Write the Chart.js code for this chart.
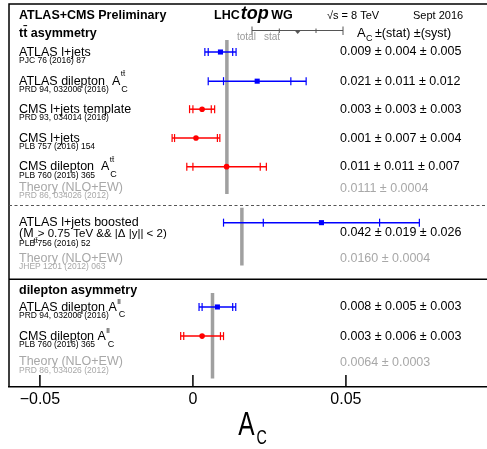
<!DOCTYPE html>
<html><head><meta charset="utf-8">
<script src="https://cdn.jsdelivr.net/npm/chart.js@4.4.1/dist/chart.umd.min.js"></script>
<style>html,body{margin:0;padding:0;background:#fff;} #wrap{position:relative;width:487px;height:449px;}</style>
</head><body><div id="wrap"><canvas id="c"></canvas></div>
<script>
// ---------------- data ----------------
const labelNames = ['ATLAS l+jets','ATLAS dilepton  A','CMS l+jets template','CMS l+jets','CMS dilepton  A','ATLAS l+jets boosted','ATLAS dilepton A','CMS dilepton A'];
const labelSup = ['', 'tt\u0304', '', '', 'tt\u0304', '', 'll', 'll'];
const experiment = ['ATLAS','ATLAS','CMS','CMS','CMS','ATLAS','ATLAS','CMS'];
const references = ['PJC 76 (2016) 87','PRD 94, 032006 (2016)','PRD 93, 034014 (2016)','PLB 757 (2016) 154','PLB 760 (2016) 365','PLB 756 (2016) 52','PRD 94, 032006 (2016)','PLB 760 (2016) 365'];
const centralValues = [0.009,0.021,0.003,0.001,0.011,0.042,0.008,0.003];
const statErrors    = [0.004,0.011,0.003,0.007,0.011,0.019,0.005,0.006];
const systErrors    = [0.005,0.012,0.003,0.004,0.007,0.026,0.003,0.003];
const totalErrors   = [0.0051,0.016,0.0041,0.0078,0.013,0.032,0.006,0.007];
const theoryValues  = [0.0111,0.0160,0.0064];
const theoryErrors  = [0.0004,0.0004,0.0003];
const theoryRefs    = ['PRD 86, 034026 (2012)','JHEP 1201 (2012) 063','PRD 86, 034026 (2012)'];
const xTicks = [-0.05,0,0.05];

// ---------------- layout (row units) ----------------
const rowPos = [1.68,2.70,3.68,4.69,5.69,7.65,10.60,11.62];
const theorySpan = [[1.26,6.65],[7.13,9.15],[10.11,13.1]];
const theoryRowPos = [6.44,8.92,12.55];
const dashedSep = 7.04, solidSep = 9.63;

const FAM = "'Liberation Sans', Arial, Helvetica, sans-serif";
const COL = {ATLAS:'rgb(0,0,255)', CMS:'rgb(255,0,0)'};
const GREYTXT = '#a8a8a8';

function txt(ctx, s, x, y, size, color, o={}) {
  ctx.save();
  ctx.font = `${o.style||'normal'} ${o.weight||'normal'} ${size}px ${FAM}`;
  ctx.fillStyle = color; ctx.textAlign = o.align||'left'; ctx.textBaseline = o.baseline||'alphabetic';
  ctx.translate(x,y); ctx.scale(o.sx||1,o.sy||1);
  ctx.fillText(s,0,0);
  const w = ctx.measureText(s).width*(o.sx||1);
  ctx.restore();
  return x + w;
}
function fmt(v,d){return v.toFixed(d);}

const datasets = [];
theoryValues.forEach((v,k)=>datasets.push({
  type:'line', label:'theory'+k,
  data:[{x:v,y:theorySpan[k][0]},{x:v,y:theorySpan[k][1]}],
  showLine:true, borderColor:'#a0a0a0', borderWidth:3.5, pointRadius:0,
  borderCapStyle:'butt', order:3
}));
['ATLAS','CMS'].forEach(e=>{
  const idx = experiment.map((x,i)=>x===e?i:-1).filter(i=>i>=0);
  datasets.push({
    label:e, isMeas:true,
    data: idx.map(i=>({x:centralValues[i], y:rowPos[i], idx:i})),
    pointStyle: e==='ATLAS'?'rect':'circle',
    pointRadius: e==='ATLAS'?3.6:2.8,
    backgroundColor: COL[e], borderColor: COL[e], borderWidth:0, order:1
  });
});

const decor = {
  id:'decor',
  beforeDatasetsDraw(chart){
    const {ctx, chartArea:a} = chart; const ys = chart.scales.y; const W = chart.width;
    ctx.save();
    ctx.strokeStyle='#000'; ctx.lineWidth=1.5;
    ctx.beginPath(); ctx.moveTo(a.left, a.bottom); ctx.lineTo(a.left, a.top); ctx.lineTo(W, a.top); ctx.stroke();
    let y = Math.round(ys.getPixelForValue(dashedSep))+0.5;
    ctx.strokeStyle='#555'; ctx.lineWidth=1.2; ctx.setLineDash([3,2.5]);
    ctx.beginPath(); ctx.moveTo(a.left, y); ctx.lineTo(W, y); ctx.stroke();
    ctx.setLineDash([]);
    y = ys.getPixelForValue(solidSep);
    ctx.strokeStyle='#000'; ctx.lineWidth=1.3;
    ctx.beginPath(); ctx.moveTo(a.left, y); ctx.lineTo(W, y); ctx.stroke();
    ctx.restore();
  },
  beforeDatasetDraw(chart, args){
    const ds = chart.data.datasets[args.index];
    if(!ds.isMeas) return;
    const {ctx} = chart; const xs=chart.scales.x, ys=chart.scales.y;
    ctx.save();
    ctx.strokeStyle = ds.borderColor;
    ds.data.forEach(p=>{
      const i=p.idx, y=ys.getPixelForValue(rowPos[i]), c=centralValues[i];
      const xl=xs.getPixelForValue(c-totalErrors[i]), xr=xs.getPixelForValue(c+totalErrors[i]);
      const sl=xs.getPixelForValue(c-statErrors[i]), sr=xs.getPixelForValue(c+statErrors[i]);
      ctx.lineWidth=1.5;
      ctx.beginPath(); ctx.moveTo(xl,y); ctx.lineTo(xr,y); ctx.stroke();
      ctx.lineWidth=1.2;
      [xl,xr,sl,sr].forEach(x=>{ctx.beginPath(); ctx.moveTo(x,y-4); ctx.lineTo(x,y+4); ctx.stroke();});
    });
    ctx.restore();
  },
  afterDraw(chart){
    const {ctx, chartArea:a} = chart; const xs=chart.scales.x, ys=chart.scales.y;
    ctx.save(); ctx.strokeStyle='#000'; ctx.lineWidth=1.5;
    xs.ticks.forEach(t=>{const x=xs.getPixelForValue(t.value); ctx.beginPath(); ctx.moveTo(x,a.bottom); ctx.lineTo(x,a.bottom-12); ctx.stroke();});
    ctx.restore();
    // axis title A_C
    txt(ctx,'A',238.3,435,34,'#000',{sx:0.72});
    txt(ctx,'C',256.5,443.5,21,'#000',{sx:0.68});
    // header
    txt(ctx,'ATLAS+CMS Preliminary',19,19,12.5,'#000',{weight:'bold'});
    let x = txt(ctx,'LHC',214,19,12.5,'#000',{weight:'bold'});
    x = txt(ctx,'top',x+1,19,18,'#000',{weight:'bold',style:'italic'});
    txt(ctx,'WG',x+2.5,19,12.5,'#000',{weight:'bold'});
    txt(ctx,'\u221As = 8 TeV',327,19,11,'#000');
    txt(ctx,'Sept 2016',413,19,11,'#000');
    txt(ctx,'tt\u0304 asymmetry',19,36.5,12.5,'#000',{weight:'bold'});
    txt(ctx,'A',357,36.5,13,'#000');
    txt(ctx,'C',366,40.5,9,'#000');
    txt(ctx,'\u00B1(stat) \u00B1(syst)',375,36.5,12.5,'#000');
    // key
    ctx.save(); ctx.strokeStyle='#555'; ctx.fillStyle='#555'; ctx.lineWidth=1;
    ctx.beginPath(); ctx.moveTo(252,30.5); ctx.lineTo(343,30.5); ctx.stroke();
    [[252,26.5,35],[343,26.5,35],[279.3,28.5,33],[316,28.5,33]].forEach(([tx,y0,y1])=>{ctx.beginPath(); ctx.moveTo(tx,y0); ctx.lineTo(tx,y1); ctx.stroke();});
    ctx.beginPath(); ctx.moveTo(294.7,30.5); ctx.lineTo(300.7,30.5); ctx.lineTo(297.7,34); ctx.closePath(); ctx.fill();
    ctx.restore();
    txt(ctx,'total',237,40,10,'#999');
    txt(ctx,'stat',264,40,10,'#999');
    // measurement rows
    labelNames.forEach((name,i)=>{
      const y = ys.getPixelForValue(rowPos[i]);
      const e = txt(ctx,name,19,y+3.8,12.5,'#000');
      if(labelSup[i]){
        const isTT = labelSup[i].startsWith('t');
        txt(ctx,labelSup[i],e+0.5,y-(isTT?5:3),8,'#000');
        txt(ctx,'C',e+(isTT?1:2),y+10.5,9,'#000');
      }
      let vy = y;
      if(i===5){
        const e2 = txt(ctx,'(M',19,y+14,12.5,'#000');
        txt(ctx,'tt\u0304',e2,y+20.5,7.5,'#000');
        txt(ctx,' > 0.75 TeV && |\u0394 |y|| < 2)',e2+1,y+14,11.5,'#000');
        txt(ctx,references[i],19,y+23.5,8.5,'#000');
        vy = y+10;
      } else {
        txt(ctx,references[i],19,y+11,8.5,'#000');
      }
      txt(ctx,`${fmt(centralValues[i],3)} \u00B1 ${fmt(statErrors[i],3)} \u00B1 ${fmt(systErrors[i],3)}`,340,vy,12.5,'#000',{baseline:'middle'});
    });
    // theory rows
    theoryValues.forEach((v,k)=>{
      const y = ys.getPixelForValue(theoryRowPos[k]);
      txt(ctx,'Theory (NLO+EW)',19,y+2.7,12.5,GREYTXT);
      txt(ctx,theoryRefs[k],19,y+10,8.5,GREYTXT);
      txt(ctx,`${fmt(v,4)} \u00B1 ${fmt(theoryErrors[k],4)}`,340,y,12.5,GREYTXT,{baseline:'middle'});
    });
    txt(ctx,'dilepton asymmetry',19,ys.getPixelForValue(solidSep)+15,12.5,'#000',{weight:'bold'});
  }
};

new Chart(document.getElementById('c'),{
  type:'scatter',
  data:{datasets},
  options:{
    responsive:true, maintainAspectRatio:false, animation:false,
    layout:{autoPadding:false, padding:{left:9,top:4,right:0,bottom:0}},
    plugins:{legend:{display:false},tooltip:{enabled:false}},
    scales:{
      x:{type:'linear',min:-0.0601,max:0.0961,position:'bottom',
         grid:{display:false,drawTicks:false},
         border:{display:true,color:'#000',width:1.5},
         afterBuildTicks:(s)=>{s.ticks = xTicks.map(v=>({value:v}));},
         afterFit:(s)=>{s.height=62;},
         ticks:{padding:3,color:'#000',font:{family:FAM,size:16},maxRotation:0,autoSkip:false,
           callback:(v)=> v===0?'0':(v<0?'\u2212'+Math.abs(v).toFixed(2):v.toFixed(2))}},
      y:{type:'linear',min:0,max:13.4,reverse:true,display:false}
    }
  },
  plugins:[decor]
});
</script>
</body></html>
